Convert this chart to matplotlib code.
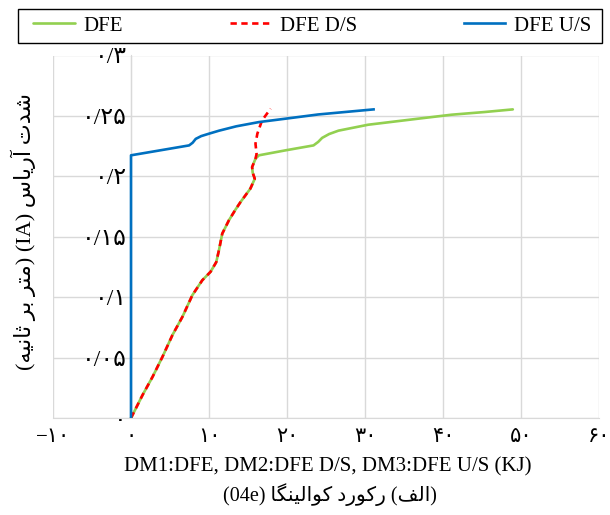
import re
import matplotlib
matplotlib.use("Agg")
import matplotlib.pyplot as plt
from matplotlib.patches import Rectangle

plt.rcParams['font.family'] = ['Liberation Serif', 'DejaVu Sans']

# ---------------- data ----------------
dfe_x = [0.0, 0.08, 1.48, 2.76, 4.04, 5.31, 6.59, 7.87, 9.14, 10.2, 10.93, 11.28, 11.7,
         12.55, 13.4, 14.05, 15.3, 15.87, 15.6, 15.53, 15.96, 16.4, 19.8, 23.4, 24.0,
         24.5, 25.4, 26.6, 30.4, 36.8, 41.1, 45.3, 48.95]
dfe_y = [0.0, 0.001, 0.019, 0.034, 0.0507, 0.0686, 0.0837, 0.1017, 0.114, 0.121, 0.129,
         0.139, 0.1526, 0.1636, 0.1725, 0.1788, 0.1898, 0.198, 0.203, 0.2077, 0.2146,
         0.2174, 0.2215, 0.2256, 0.2285, 0.2318, 0.2350, 0.2378, 0.2427, 0.2477, 0.251,
         0.2532, 0.2554]

ds_x = [0.0, 0.08, 1.48, 2.76, 4.04, 5.31, 6.59, 7.87, 9.14, 10.2, 10.93, 11.28, 11.7,
        12.55, 13.4, 14.05, 15.3, 15.87, 15.6, 15.53, 15.96, 16.1, 15.96, 16.2, 16.8, 17.9]
ds_y = [0.0, 0.001, 0.019, 0.034, 0.0507, 0.0686, 0.0837, 0.1017, 0.114, 0.121, 0.129,
        0.139, 0.1526, 0.1636, 0.1725, 0.1788, 0.1898, 0.198, 0.203, 0.2077, 0.2146,
        0.2185, 0.227, 0.2353, 0.2463, 0.256]

us_x = [0.0, 0.0, 7.45, 7.9, 8.3, 9.0, 10.0, 11.3, 13.5, 16.4, 19.8, 24.0, 31.1]
us_y = [0.0, 0.2174, 0.2256, 0.2278, 0.2310, 0.2333, 0.2353, 0.2378, 0.2414, 0.2449,
        0.2477, 0.2512, 0.2554]

series_names = ['DFE', 'DFE D/S', 'DFE U/S']
x_ticks = [-10, 0, 10, 20, 30, 40, 50, 60]
x_tick_labels = ['\u2212۱۰', '۰', '۱۰', '۲۰', '۳۰', '۴۰', '۵۰', '۶۰']
y_ticks = [0, 0.05, 0.1, 0.15, 0.2, 0.25, 0.3]
y_tick_labels = ['۰', '۰/۰۵', '۰/۱', '۰/۱۵', '۰/۲', '۰/۲۵', '۰/۳']
x_label = 'DM1:DFE, DM2:DFE D/S, DM3:DFE U/S (KJ)'
y_label = 'شدت آریاس (IA) (متر بر ثانیه)'
caption = '(الف) رکورد کوالینگا (04e)'

# ---------------- minimal Persian shaping + visual ordering ----------------
FORMS = {
    'ا': ('\uFE8D', '\uFE8E', None, None),
    'آ': ('\uFE81', '\uFE82', None, None),
    'ب': ('\uFE8F', '\uFE90', '\uFE91', '\uFE92'),
    'ت': ('\uFE95', '\uFE96', '\uFE97', '\uFE98'),
    'ث': ('\uFE99', '\uFE9A', '\uFE9B', '\uFE9C'),
    'د': ('\uFEA9', '\uFEAA', None, None),
    'ر': ('\uFEAD', '\uFEAE', None, None),
    'س': ('\uFEB1', '\uFEB2', '\uFEB3', '\uFEB4'),
    'ش': ('\uFEB5', '\uFEB6', '\uFEB7', '\uFEB8'),
    'ف': ('\uFED1', '\uFED2', '\uFED3', '\uFED4'),
    'ل': ('\uFEDD', '\uFEDE', '\uFEDF', '\uFEE0'),
    'م': ('\uFEE1', '\uFEE2', '\uFEE3', '\uFEE4'),
    'ن': ('\uFEE5', '\uFEE6', '\uFEE7', '\uFEE8'),
    'ه': ('\uFEE9', '\uFEEA', '\uFEEB', '\uFEEC'),
    'و': ('\uFEED', '\uFEEE', None, None),
    'ی': ('\uFBFC', '\uFBFD', '\uFBFE', '\uFBFF'),
    'ک': ('\uFB8E', '\uFB8F', '\uFB90', '\uFB91'),
    'گ': ('\uFB92', '\uFB93', '\uFB94', '\uFB95'),
}


def shape(s):
    out = []
    n = len(s)
    for i, ch in enumerate(s):
        if ch not in FORMS:
            out.append(ch)
            continue
        iso, fin, ini, med = FORMS[ch]
        prev = s[i - 1] if i > 0 else ''
        nxt = s[i + 1] if i + 1 < n else ''
        pj = prev in FORMS and FORMS[prev][2] is not None
        nj = nxt in FORMS and ini is not None
        if pj and nj:
            out.append(med)
        elif pj:
            out.append(fin)
        elif nj:
            out.append(ini)
        else:
            out.append(iso)
    return ''.join(out)


def visual(s):
    r = shape(s)[::-1]
    r = r.translate(str.maketrans('()', ')('))
    r = re.sub(r'[A-Za-z0-9]+', lambda m: m.group(0)[::-1], r)
    return r


# ---------------- figure ----------------
W, H = 610, 515
fig = plt.figure(figsize=(W / 100, H / 100), dpi=100)
ax = fig.add_axes([53 / W, 97 / H, 546 / W, 362.5 / H])

grid_c = '#D9D9D9'
l1, = ax.plot(dfe_x, dfe_y, color='#92D050', lw=1.9, solid_capstyle='round',
              solid_joinstyle='round', zorder=3)
l2, = ax.plot(ds_x, ds_y, color='#FF0000', lw=1.9, linestyle=(0, (2.4, 1.7)), zorder=4)
l3, = ax.plot(us_x, us_y, color='#0070C0', lw=1.9, solid_joinstyle='round', zorder=5)

ax.set_xlim(-10, 60)
ax.set_ylim(0, 0.3)
ax.set_xticks(x_ticks)
ax.set_xticklabels(x_tick_labels)
ax.set_yticks(y_ticks)
ax.set_yticklabels(y_tick_labels)
ax.grid(True, color=grid_c, lw=1.0, zorder=0)
ax.set_axisbelow(True)

for side in ['top', 'right']:
    ax.spines[side].set_visible(False)
ax.spines['left'].set_position(('data', 0))
ax.spines['left'].set_color(grid_c)
ax.spines['bottom'].set_color(grid_c)
ax.tick_params(axis='both', length=0)
ax.tick_params(axis='y', pad=3, labelsize=17)
ax.tick_params(axis='x', pad=7, labelsize=15)

fig.text(23 / W, 1 - 231 / H, visual(y_label), rotation=90, ha='center', va='center',
         fontsize=16)
fig.text(328 / W, 1 - 467 / H, x_label, ha='center', va='center', fontsize=15)
fig.text(330 / W, 1 - 495 / H, visual(caption), ha='center', va='center', fontsize=14.5)

# legend frame and entries
fig.patches.append(Rectangle((18 / W, 1 - 42.7 / H), 584 / W, 33.4 / H,
                             transform=fig.transFigure, fill=False,
                             edgecolor='black', lw=1.0))
leg = fig.legend([l1, l2, l3], series_names, loc='center',
                 bbox_to_anchor=(33 / W, 1 - 42.7 / H, 558 / W, 33.4 / H),
                 mode='expand', ncol=3, fontsize=15, frameon=False,
                 borderaxespad=0, borderpad=0, handlelength=2.0,
                 handletextpad=0.4)

fig.savefig('out.png', dpi=100)
